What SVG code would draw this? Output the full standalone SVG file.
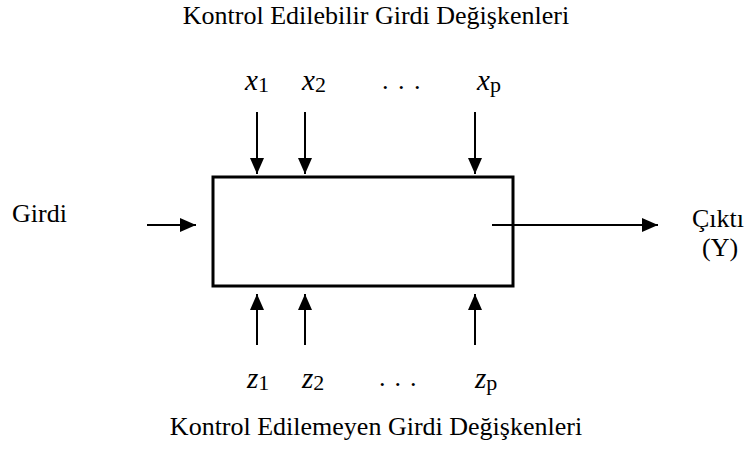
<svg xmlns="http://www.w3.org/2000/svg" width="747" height="450" viewBox="0 0 747 450">
<defs>
<marker id="ah" viewBox="0 0 16 14" refX="16" refY="7" markerWidth="16" markerHeight="14" markerUnits="userSpaceOnUse" orient="auto">
<path d="M0,0 L16,7 L0,14 Z" fill="#000"/>
</marker>
</defs>
<style>
text{font-family:"Liberation Serif","Times New Roman",serif;fill:#000}
.lbl{font-size:26px}
.var{font-size:29px;font-style:italic}
.sub{font-size:22px;font-style:normal}
.cn{stroke:#000;stroke-width:2;fill:none}
.dot{font-size:26px}
</style>
<rect width="747" height="450" fill="#fff"/>
<g id="title-top"><text class="lbl" x="376" y="24" text-anchor="middle">Kontrol Edilebilir Girdi Değişkenleri</text></g>
<g id="title-bottom"><text class="lbl" x="376" y="435" text-anchor="middle">Kontrol Edilemeyen Girdi Değişkenleri</text></g>
<g id="process"><rect x="213" y="177" width="300" height="109" fill="none" stroke="#000" stroke-width="3"/></g>
<g id="input-label"><text class="lbl" x="12" y="222">Girdi</text></g>
<g id="output-label"><text class="lbl" x="692" y="227">Çıktı</text><text class="lbl" x="702" y="256">(Y)</text></g>
<g id="x1"><text class="var" x="245" y="90">x<tspan class="sub" dy="2">1</tspan></text></g>
<g id="x2"><text class="var" x="302" y="90">x<tspan class="sub" dy="2">2</tspan></text></g>
<g id="xdots"><text class="dot" x="382" y="89" letter-spacing="9.5">...</text></g>
<g id="xp"><text class="var" x="477" y="90">x<tspan class="sub" dy="2">p</tspan></text></g>
<g id="z1"><text class="var" x="247" y="388">z<tspan class="sub" dy="2">1</tspan></text></g>
<g id="z2"><text class="var" x="302" y="388">z<tspan class="sub" dy="2">2</tspan></text></g>
<g id="zdots"><text class="dot" x="379" y="386" letter-spacing="9">...</text></g>
<g id="zp"><text class="var" x="475" y="388">z<tspan class="sub" dy="2">p</tspan></text></g>
<g id="connectors">
<line class="cn" x1="257" y1="112" x2="257" y2="174" marker-end="url(#ah)"/>
<line class="cn" x1="305" y1="112" x2="305" y2="174" marker-end="url(#ah)"/>
<line class="cn" x1="475" y1="112" x2="475" y2="174" marker-end="url(#ah)"/>
<line class="cn" x1="257" y1="345" x2="257" y2="294" marker-end="url(#ah)"/>
<line class="cn" x1="305" y1="345" x2="305" y2="294" marker-end="url(#ah)"/>
<line class="cn" x1="475" y1="345" x2="475" y2="294" marker-end="url(#ah)"/>
<line class="cn" x1="147" y1="225" x2="196" y2="225" marker-end="url(#ah)"/>
<line class="cn" x1="492" y1="225" x2="658" y2="225" marker-end="url(#ah)"/>
</g>
</svg>
